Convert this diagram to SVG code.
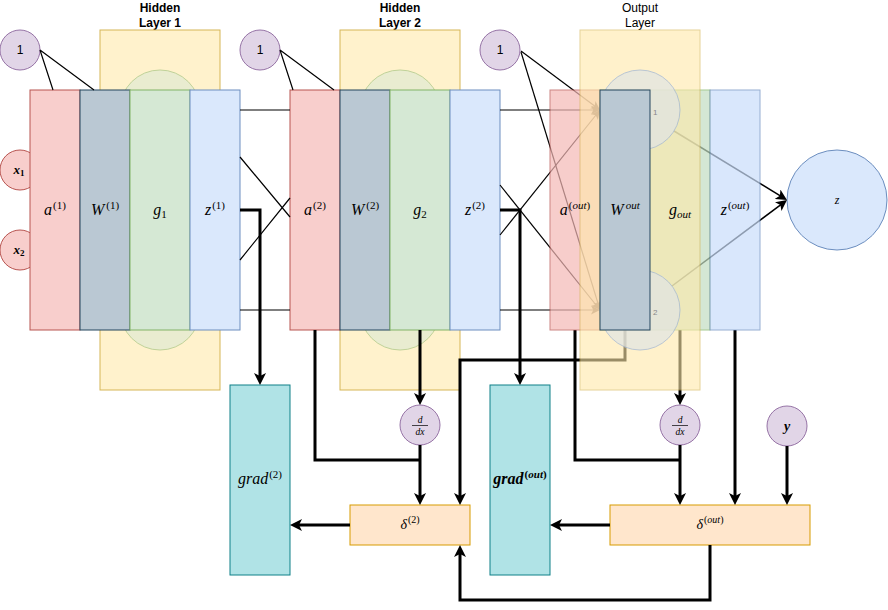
<svg xmlns="http://www.w3.org/2000/svg" width="888" height="610" viewBox="0 0 888 610">
<style>
.t{font-family:"Liberation Sans",Arial,sans-serif;font-size:12px;fill:#000}
.tb{font-weight:bold}
.m{font-family:"Liberation Serif","Times New Roman",serif;font-style:italic;font-size:16px;fill:#000}
.s{font-size:11px;font-style:normal}
.si{font-size:11px}
.red{fill:#f8cecc;stroke:#b85450}
.wr{fill:#bac8d3;stroke:#23445d}
.gr{fill:#d5e8d4;stroke:#82b366}
.bl{fill:#dae8fc;stroke:#6c8ebf}
.ye{fill:#fff2cc;stroke:#d6b656}
.pu{fill:#e1d5e7;stroke:#9673a6}
.tq{fill:#b0e3e6;stroke:#0e8088}
.or{fill:#ffe6cc;stroke:#d79b00}
.hc{fill:#d5e8d4;stroke:#82b366;opacity:0.5}
.th{fill:none;stroke:#000;stroke-width:3}
.tn{fill:none;stroke:#000;stroke-width:1.2}
.fr{font-size:9.5px}
</style>
<defs>
<marker id="ah" viewBox="0 0 12 12" refX="8" refY="6" markerWidth="12" markerHeight="12" markerUnits="userSpaceOnUse" orient="auto"><path d="M0,0 L12,6 L0,12 L3,6 Z" fill="#000"/></marker>
<marker id="at" viewBox="0 0 9 9" refX="6.5" refY="4.5" markerWidth="9" markerHeight="9" markerUnits="userSpaceOnUse" orient="auto"><path d="M0,0 L9,4.5 L0,9 L2.25,4.5 Z" fill="#000"/></marker>
<marker id="am" viewBox="0 0 11 11" refX="8" refY="5.5" markerWidth="11" markerHeight="11" markerUnits="userSpaceOnUse" orient="auto"><path d="M0,0 L11,5.5 L0,11 L2.75,5.5 Z" fill="#000"/></marker>
</defs>

<g id="titles">
<text class="t tb" x="160" y="12" text-anchor="middle">Hidden</text>
<text class="t tb" x="160" y="27" text-anchor="middle">Layer 1</text>
<text class="t tb" x="400" y="12" text-anchor="middle">Hidden</text>
<text class="t tb" x="400" y="27" text-anchor="middle">Layer 2</text>
<text class="t" x="640" y="12" text-anchor="middle">Output</text>
<text class="t" x="640" y="27" text-anchor="middle">Layer</text>
</g>

<g id="bias1"><circle class="pu" cx="20" cy="50" r="20"/><text class="t" x="20" y="54" text-anchor="middle">1</text></g>
<g id="bias2"><circle class="pu" cx="260" cy="50" r="20"/><text class="t" x="260" y="54" text-anchor="middle">1</text></g>
<g id="bias3"><circle class="pu" cx="500" cy="50" r="20"/><text class="t" x="500" y="54" text-anchor="middle">1</text></g>

<g id="x1"><circle class="red" cx="20" cy="170" r="20"/></g>
<g id="x2"><circle class="red" cx="20" cy="250" r="20"/></g>

<g id="layer1">
<rect class="ye" x="100" y="30" width="120" height="360"/>
<circle class="hc" cx="160" cy="110" r="40"/>
<circle class="hc" cx="160" cy="310" r="40"/>
<rect class="red" x="30" y="90" width="50" height="240"/>
<rect class="wr" x="80" y="90" width="50" height="240"/>
<rect class="gr" x="130" y="90" width="60" height="240"/>
<rect class="bl" x="190" y="90" width="50" height="240"/>
<text class="m" x="55" y="215" text-anchor="middle">a<tspan class="s" dx="1" dy="-6">(1)</tspan></text>
<text class="m" x="105" y="215" text-anchor="middle">W<tspan class="s" dx="2" dy="-6">(1)</tspan></text>
<text class="m" x="160" y="215" text-anchor="middle">g<tspan class="s" dy="3">1</tspan></text>
<text class="m" x="215" y="215" text-anchor="middle">z<tspan class="s" dx="1" dy="-6">(1)</tspan></text>
</g>

<g id="xlabels">
<text class="m" x="19" y="174" text-anchor="middle" style="font-size:13px;font-weight:bold">x<tspan class="s" style="font-size:9px" dy="2">1</tspan></text>
<text class="m" x="19" y="254" text-anchor="middle" style="font-size:13px;font-weight:bold">x<tspan class="s" style="font-size:9px" dy="2">2</tspan></text>
</g>

<g id="layer2">
<rect class="ye" x="340" y="30" width="120" height="360"/>
<circle class="hc" cx="400" cy="110" r="40"/>
<circle class="hc" cx="400" cy="310" r="40"/>
<rect class="red" x="290" y="90" width="50" height="240"/>
<rect class="wr" x="340" y="90" width="50" height="240"/>
<rect class="gr" x="390" y="90" width="60" height="240"/>
<rect class="bl" x="450" y="90" width="50" height="240"/>
<text class="m" x="315" y="215" text-anchor="middle">a<tspan class="s" dx="1" dy="-6">(2)</tspan></text>
<text class="m" x="365" y="215" text-anchor="middle">W<tspan class="s" dx="2" dy="-6">(2)</tspan></text>
<text class="m" x="420" y="215" text-anchor="middle">g<tspan class="s" dy="3">2</tspan></text>
<text class="m" x="475" y="215" text-anchor="middle">z<tspan class="s" dx="1" dy="-6">(2)</tspan></text>
</g>

<g id="grad2"><rect class="tq" x="230" y="385" width="60" height="190"/><text class="m" x="260" y="484" text-anchor="middle">grad<tspan class="s" dx="1" dy="-6">(2)</tspan></text></g>
<g id="gradout"><rect class="tq" x="490" y="385" width="60" height="190"/><text class="m" x="520" y="484" text-anchor="middle" style="font-weight:bold">grad<tspan class="si" dx="1" dy="-6"><tspan class="s">(</tspan>out<tspan class="s">)</tspan></tspan></text></g>
<g id="delta2"><rect class="or" x="350" y="505" width="120" height="40"/><text class="m" x="410" y="529" text-anchor="middle" style="font-size:14px">δ<tspan class="s" style="font-size:10px" dx="1" dy="-6">(2)</tspan></text></g>
<g id="deltaout"><rect class="or" x="610" y="505" width="200" height="40"/><text class="m" x="710" y="529" text-anchor="middle" style="font-size:14px">δ<tspan style="font-size:10px" dx="1" dy="-6"><tspan class="s" style="font-size:10px">(</tspan>out<tspan class="s" style="font-size:10px">)</tspan></tspan></text></g>
<g id="ddx2"><circle class="pu" cx="420" cy="425" r="20"/><text class="m fr" x="420" y="422.5" text-anchor="middle">d</text><line x1="412" y1="425.5" x2="428" y2="425.5" stroke="#000" stroke-width="0.7"/><text class="m fr" x="420" y="434.5" text-anchor="middle">dx</text></g>
<g id="ddxout"><circle class="pu" cx="680" cy="425" r="20"/><text class="m fr" x="680" y="422.5" text-anchor="middle">d</text><line x1="672" y1="425.5" x2="688" y2="425.5" stroke="#000" stroke-width="0.7"/><text class="m fr" x="680" y="434.5" text-anchor="middle">dx</text></g>
<g id="ynode"><circle class="pu" cx="787" cy="426" r="20"/><text class="m" x="787" y="431" text-anchor="middle" style="font-size:14px;font-weight:bold">y</text></g>
<g id="zout"><circle class="bl" cx="837" cy="200" r="50"/><text class="m" x="837" y="204" text-anchor="middle" style="font-size:12px">z</text></g>

<g id="connectors">
<path class="tn" d="M40,50 L53,90 M40,50 L94,90"/>
<path class="tn" d="M280,50 L293,90 M280,50 L334,90"/>
<path class="tn" d="M240,110 H290 M240,310 H290 M240,157 L290,217 M240,260 L290,198"/>
<path class="tn" d="M500,110 H597.5" marker-end="url(#at)"/>
<path class="tn" d="M500,310 H597.5" marker-end="url(#at)"/>
<path class="tn" d="M521,51 L598,108.5" marker-end="url(#at)"/>
<path class="tn" d="M521,52 L599.3,307.6" marker-end="url(#at)"/>
<path class="tn" d="M500,185 L598.4,308" marker-end="url(#at)"/>
<path class="tn" d="M500,235 L598.4,112" marker-end="url(#at)"/>
<path class="tn" style="stroke-width:1.5" d="M674,131 L784.4,198.4" marker-end="url(#am)"/>
<path class="tn" style="stroke-width:1.5" d="M672,286 L784.6,201.8" marker-end="url(#am)"/>
<path class="th" d="M240,210 H260 V381" marker-end="url(#ah)"/>
<path class="th" d="M500,210 H520 V381" marker-end="url(#ah)"/>
<path class="th" d="M420,330 V401" marker-end="url(#ah)"/>
<path class="th" d="M420,445 V501" marker-end="url(#ah)"/>
<path class="th" d="M315,330 V460 H420"/>
<path class="th" d="M625,330 V360 H460 V501" marker-end="url(#ah)"/>
<path class="th" d="M350,525 H294" marker-end="url(#ah)"/>
<path class="th" d="M710,545 V600 H460 V549" marker-end="url(#ah)"/>
<path class="th" d="M610,525 H554" marker-end="url(#ah)"/>
<path class="th" d="M575,330 V460 H680"/>
<path class="th" d="M680,330 V401" marker-end="url(#ah)"/>
<path class="th" d="M680,445 V501" marker-end="url(#ah)"/>
<path class="th" d="M735,330 V501" marker-end="url(#ah)"/>
<path class="th" d="M787,446 V501" marker-end="url(#ah)"/>
</g>

<g id="outputlayer">
<rect x="550" y="90" width="50" height="240" fill="#f5b9b6" stroke="#b85450" opacity="0.7"/>
<rect x="600" y="90" width="110" height="240" fill="#c3dec2" stroke="#82b366" opacity="0.7"/>
<rect x="710" y="90" width="50" height="240" fill="#cadefb" stroke="#6c8ebf" opacity="0.7"/>
<rect x="580" y="30" width="120" height="360" fill="#ffe9aa" stroke="#d6b656" opacity="0.6"/>
<circle cx="640" cy="110" r="40" fill="#e2e5e2" stroke="#a3b8d6" opacity="0.75"/>
<circle cx="640" cy="310" r="40" fill="#e2e5e2" stroke="#a3b8d6" opacity="0.75"/>
<text class="t" x="653" y="115" style="font-size:8px;fill:#888">1</text>
<text class="t" x="653" y="315" style="font-size:8px;fill:#888">2</text>
<rect class="wr" x="600" y="90" width="50" height="240"/>
<text class="m" x="575" y="215" text-anchor="middle">a<tspan class="si" dx="1" dy="-6"><tspan class="s">(</tspan>out<tspan class="s">)</tspan></tspan></text>
<text class="m" x="625" y="215" text-anchor="middle">W<tspan class="si" dx="2" dy="-6">out</tspan></text>
<text class="m" x="680" y="215" text-anchor="middle">g<tspan class="si" dy="3">out</tspan></text>
<text class="m" x="735" y="215" text-anchor="middle">z<tspan class="si" dx="1" dy="-6"><tspan class="s">(</tspan>out<tspan class="s">)</tspan></tspan></text>
</g>
</svg>
